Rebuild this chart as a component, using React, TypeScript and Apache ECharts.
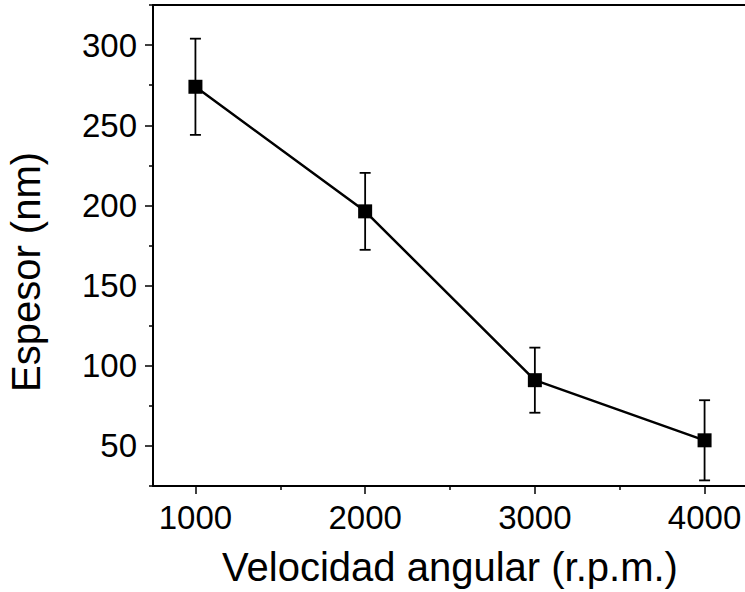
import React, { useEffect, useRef } from "react";
import * as echarts from "echarts";

const speeds = [1000, 2000, 3000, 4000];
const thickness = [274, 196.3, 91, 53.5];
const thicknessErr = [30, 24, 20.3, 25];
const xMajorTicks = [1000, 2000, 3000, 4000];
const xMinorTicks = [1500, 2500, 3500];
const yMajorTicks = [50, 100, 150, 200, 250, 300];
const yMinorTicks = [25, 75, 125, 175, 225, 275, 325];

const FONT = "'Liberation Sans', Arial, sans-serif";
const X_MIN = 750;
const X_MAX = 4250;

export default function App() {
  const ref = useRef<HTMLDivElement>(null);
  useEffect(() => {
    document.body.style.margin = "0";
    document.body.style.overflow = "hidden";
    const chart = echarts.init(ref.current!, null, { renderer: "svg" });
    const lineData = speeds.map((s, i) => [s, thickness[i]]);
    const errData = speeds.map((s, i) => [s, thickness[i] - thicknessErr[i], thickness[i] + thicknessErr[i]]);
    const black = "#000";
    chart.setOption({
      animation: false,
      grid: {
        left: 153,
        top: 5,
        width: 594,
        height: 481,
        show: false,
        containLabel: false,
        outerBoundsMode: "none",
      },
      xAxis: [
        {
          type: "value",
          min: X_MIN,
          max: X_MAX,
          position: "bottom",
          axisLine: { show: true, onZero: false, lineStyle: { color: black, width: 2 } },
          axisTick: { show: true, customValues: xMajorTicks, length: 8, lineStyle: { color: black, width: 1.5 } },
          axisLabel: {
            customValues: xMajorTicks,
            fontSize: 33,
            color: black,
            fontFamily: FONT,
            margin: 15,
            formatter: (v: number) => String(v),
          },
          splitLine: { show: false },
          name: "Velocidad angular (r.p.m.)",
          nameLocation: "middle",
          nameGap: 61,
          nameTextStyle: { fontSize: 40, color: black, fontFamily: FONT },
        },
        {
          type: "value",
          min: X_MIN,
          max: X_MAX,
          position: "bottom",
          axisLine: { show: false },
          axisTick: { show: true, customValues: xMinorTicks, length: 4, lineStyle: { color: black, width: 1.5 } },
          axisLabel: { show: false },
          splitLine: { show: false },
        },
        {
          type: "value",
          min: X_MIN,
          max: X_MAX,
          position: "top",
          axisLine: { show: true, onZero: false, lineStyle: { color: black, width: 2 } },
          axisTick: { show: false },
          axisLabel: { show: false },
          splitLine: { show: false },
        },
      ],
      yAxis: [
        {
          type: "value",
          min: 25,
          max: 325,
          position: "left",
          axisLine: { show: true, onZero: false, lineStyle: { color: black, width: 2 } },
          axisTick: { show: true, customValues: yMajorTicks, length: 8, lineStyle: { color: black, width: 1.5 } },
          axisLabel: {
            customValues: yMajorTicks,
            fontSize: 33,
            color: black,
            fontFamily: FONT,
            margin: 16,
            formatter: (v: number) => String(v),
          },
          splitLine: { show: false },
          name: "Espesor (nm)",
          nameLocation: "middle",
          nameRotate: 90,
          nameGap: 107,
          nameTextStyle: { fontSize: 40, color: black, fontFamily: FONT, padding: [0, 53, 0, 0] },
        },
        {
          type: "value",
          min: 25,
          max: 325,
          position: "left",
          axisLine: { show: false },
          axisTick: { show: true, customValues: yMinorTicks, length: 4, lineStyle: { color: black, width: 1.5 } },
          axisLabel: { show: false },
          splitLine: { show: false },
        },
      ],
      series: [
        {
          type: "custom",
          xAxisIndex: 0,
          yAxisIndex: 0,
          data: errData,
          z: 2,
          renderItem: (params: any, api: any) => {
            const x = api.value(0);
            const lo = api.coord([x, api.value(1)]);
            const hi = api.coord([x, api.value(2)]);
            const hw = 5.5;
            const style = { stroke: black, lineWidth: 1.8 };
            return {
              type: "group",
              children: [
                { type: "line", shape: { x1: lo[0], y1: lo[1], x2: hi[0], y2: hi[1] }, style },
                { type: "line", shape: { x1: hi[0] - hw, y1: hi[1], x2: hi[0] + hw, y2: hi[1] }, style },
                { type: "line", shape: { x1: lo[0] - hw, y1: lo[1], x2: lo[0] + hw, y2: lo[1] }, style },
              ],
            };
          },
        },
        {
          type: "line",
          xAxisIndex: 0,
          yAxisIndex: 0,
          data: lineData,
          z: 3,
          symbol: "rect",
          symbolSize: 14,
          lineStyle: { color: black, width: 2.5 },
          itemStyle: { color: black },
        },
      ],
    });
    return () => chart.dispose();
  }, []);
  return (
    <div
      ref={ref}
      style={{ position: "fixed", left: 0, top: 0, width: 770, height: 592, background: "#fff" }}
    />
  );
}
